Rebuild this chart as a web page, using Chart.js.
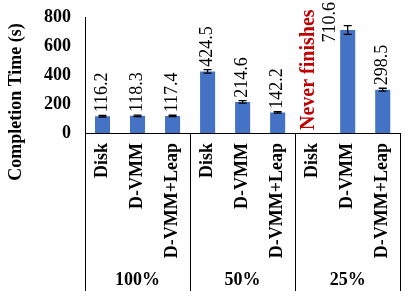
<!DOCTYPE html>
<html>
<head>
<meta charset="utf-8">
<script src="https://cdn.jsdelivr.net/npm/chart.js@4/dist/chart.umd.min.js"></script>
<style>
  html, body { margin: 0; padding: 0; background: #fff; }
  #wrap { width: 415px; height: 291px; }
</style>
</head>
<body>
<div id="wrap"><canvas id="grafica"></canvas></div>
<script>
const categorias = ['Disk', 'D-VMM', 'D-VMM+Leap', 'Disk', 'D-VMM', 'D-VMM+Leap', 'Disk', 'D-VMM', 'D-VMM+Leap']
const grupos = ['100%', '50%', '25%']
const tiempos = [116.2, 118.3, 117.4, 424.5, 214.6, 142.2, null, 710.6, 298.5]
const errores = [6, 5, 5, 12, 8, 5, 0, 30, 10]
const ticksY = [0, 200, 400, 600, 800]
const textoNunca = 'Never finishes'

const serif = '"Liberation Serif", "Times New Roman", serif'

// dibuja barras de error, etiquetas, separadores y grupos
const extras = {
    id: 'extras',
    afterDatasetsDraw(chart) {
        const ctx = chart.ctx
        const x = chart.scales.x
        const y = chart.scales.y
        const area = chart.chartArea
        ctx.save()

        // barras de error
        ctx.strokeStyle = '#000'
        ctx.lineWidth = 1.3
        tiempos.forEach((v, i) => {
            if (v === null) return
            const cx = x.getPixelForValue(i)
            const yt = y.getPixelForValue(v + errores[i])
            const yb = y.getPixelForValue(v - errores[i])
            ctx.beginPath()
            ctx.moveTo(cx, yt); ctx.lineTo(cx, yb)
            ctx.moveTo(cx - 4, yt); ctx.lineTo(cx + 4, yt)
            ctx.moveTo(cx - 4, yb); ctx.lineTo(cx + 4, yb)
            ctx.stroke()
        })

        // etiquetas de valores
        tiempos.forEach((v, i) => {
            const cx = x.getPixelForValue(i)
            ctx.save()
            if (v === null) {
                ctx.font = 'bold 20px ' + serif
                ctx.fillStyle = '#C00000'
                ctx.translate(cx - 4, area.bottom - 3)
                ctx.rotate(-Math.PI / 2)
                ctx.textAlign = 'left'
                ctx.textBaseline = 'middle'
                ctx.fillText(textoNunca, 0, 0)
            } else {
                ctx.font = '18px ' + serif
                ctx.fillStyle = '#000'
                const txt = v.toFixed(1)
                const w = ctx.measureText(txt).width
                let inicio = y.getPixelForValue(v + errores[i]) - 3
                let px = cx
                if (inicio - w < 0) {
                    inicio = w + 2
                    px = cx - 17
                }
                ctx.translate(px, inicio)
                ctx.rotate(-Math.PI / 2)
                ctx.textAlign = 'left'
                ctx.textBaseline = 'middle'
                ctx.fillText(txt, 0, 0)
            }
            ctx.restore()
        })

        // separadores de grupos
        ctx.strokeStyle = '#000'
        ctx.lineWidth = 1
        const paso = (area.right - area.left) / categorias.length
        for (let g = 0; g <= grupos.length; g++) {
            const sx = Math.round(area.left + g * 3 * paso) + 0.5
            ctx.beginPath()
            ctx.moveTo(sx, area.bottom)
            ctx.lineTo(sx, chart.height)
            ctx.stroke()
        }

        // nombres de grupos
        ctx.font = 'bold 18px ' + serif
        ctx.fillStyle = '#000'
        ctx.textAlign = 'center'
        ctx.textBaseline = 'middle'
        grupos.forEach((g, k) => {
            ctx.fillText(g, area.left + (k * 3 + 1.5) * paso, 280)
        })

        // titulo eje y
        ctx.save()
        ctx.translate(16, 102)
        ctx.rotate(-Math.PI / 2)
        ctx.fillText('Completion Time (s)', 0, 0)
        ctx.restore()

        ctx.restore()
    }
}

new Chart(document.getElementById('grafica'), {
    type: 'bar',
    data: {
        labels: categorias,
        datasets: [{
            data: tiempos,
            backgroundColor: '#4472C4',
            categoryPercentage: 1,
            barPercentage: 0.43
        }]
    },
    options: {
        responsive: true,
        maintainAspectRatio: false,
        animation: false,
        events: [],
        layout: { padding: { top: 17, right: 12, left: 0, bottom: 0 } },
        plugins: { legend: { display: false }, tooltip: { enabled: false } },
        scales: {
            x: {
                grid: { display: false, drawTicks: false },
                border: { display: true, color: '#000', width: 1 },
                ticks: {
                    autoSkip: false,
                    minRotation: 90,
                    maxRotation: 90,
                    padding: 10,
                    color: '#000',
                    font: { family: serif, size: 18, weight: 'bold' }
                },
                afterFit: s => { s.height = 158 }
            },
            y: {
                min: 0,
                max: 800,
                afterBuildTicks: s => { s.ticks = ticksY.map(v => ({ value: v })) },
                grid: { display: false, drawTicks: false },
                border: { display: true, color: '#000', width: 1 },
                ticks: {
                    padding: 14,
                    color: '#000',
                    font: { family: serif, size: 18, weight: 'bold', lineHeight: 0.8 }
                },
                afterFit: s => { s.width = 85; s.paddingTop = 0; s.paddingBottom = 0 }
            }
        }
    },
    plugins: [extras]
})
</script>
</body>
</html>
